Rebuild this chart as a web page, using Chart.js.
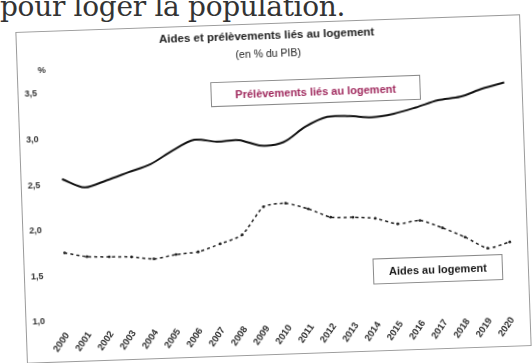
<!DOCTYPE html>
<html><head><meta charset="utf-8">
<script src="https://cdn.jsdelivr.net/npm/chart.js@4"></script>
<style>
html,body{margin:0;padding:0;background:#fff;width:532px;height:363px;overflow:hidden;position:relative;}
#head{position:absolute;left:0px;top:-7px;font-family:"DejaVu Serif",serif;font-size:28px;line-height:28px;color:#333;white-space:nowrap;letter-spacing:-0.3px;}
#box{position:absolute;left:21px;top:23px;width:505px;height:332px;transform:rotate(-2deg);transform-origin:50% 50%;}
#frame{position:absolute;left:0;top:0;width:505px;height:332px;box-sizing:border-box;border:1px solid #9a9a9a;}
canvas{position:absolute;left:0;top:0;}
.t{position:absolute;font-family:"Liberation Sans",Arial,sans-serif;color:#222;white-space:nowrap;transform:translate(-50%,-50%);}
.lg{position:absolute;box-sizing:border-box;border:1px solid #8a8a8a;background:#fff;font-family:"Liberation Sans",Arial,sans-serif;font-weight:bold;font-size:11px;display:flex;align-items:center;justify-content:center;white-space:nowrap;}
</style></head>
<body>
<div id="head">pour loger la population.</div>
<div id="box">
  <canvas id="c" width="505" height="332"></canvas>
  <div id="frame"></div>
  <div class="t" style="left:251px;top:12px;font-size:11.5px;font-weight:bold;">Aides et prélèvements liés au logement</div>
  <div class="t" style="left:252px;top:30px;font-size:10.5px;">(en % du PIB)</div>
  <div class="t" style="left:25px;top:39px;font-size:9px;font-weight:bold;color:#333;">%</div>
  <div class="lg" style="left:193px;top:57px;width:210px;height:25px;color:#a02a5e;">Prélèvements liés au logement</div>
  <div class="lg" style="left:349px;top:239px;width:130px;height:26px;color:#1a1a1a;">Aides au logement</div>
</div>
<script>
const years = ["2000","2001","2002","2003","2004","2005","2006","2007","2008","2009","2010","2011","2012","2013","2014","2015","2016","2017","2018","2019","2020"];
const prelevements = [2.56,2.46,2.53,2.61,2.69,2.83,2.94,2.91,2.92,2.85,2.88,3.04,3.14,3.14,3.12,3.15,3.21,3.28,3.31,3.39,3.45];
const aides = [1.75,1.70,1.69,1.68,1.65,1.69,1.71,1.79,1.88,2.18,2.21,2.14,2.04,2.03,2.01,1.94,1.97,1.88,1.77,1.64,1.70];
const yTickLabels = ["1,0","1,5","2,0","2,5","3,0","3,5"];

new Chart(document.getElementById('c'), {
  type: 'line',
  data: {
    labels: years,
    datasets: [
      {label:'Prélèvements liés au logement', data: prelevements, borderColor:'#111', borderWidth:2, pointRadius:0, tension:0.3, clip:false, fill:false},
      {label:'Aides au logement', data: aides, borderColor:'#222', borderWidth:1.5, borderDash:[3,3], pointRadius:1.4, pointBackgroundColor:'#222', pointBorderWidth:0, tension:0.2, clip:false, fill:false}
    ]
  },
  options: {
    responsive:false, animation:false, devicePixelRatio:1,
    layout:{padding:{top:63,right:15.4,left:0,bottom:0}},
    plugins:{legend:{display:false}, title:{display:false}, tooltip:{enabled:false}},
    scales:{
      x:{
        offset:false,
        grid:{display:false, drawTicks:false}, border:{display:false},
        ticks:{autoSkip:false, minRotation:54, maxRotation:54, padding:9, color:'#333', font:{family:'Liberation Sans', size:9.5, weight:'bold'}},
        afterFit:(s)=>{s.height=41;}
      },
      y:{
        min:1, max:3.5,
        grid:{display:false, drawTicks:false}, border:{display:false},
        ticks:{stepSize:0.5, padding:22, color:'#333', font:{family:'Liberation Sans', size:9, weight:'bold'},
          callback:(v,i)=>yTickLabels[i]},
        afterFit:(s)=>{s.width=41.5;}
      }
    }
  }
});
</script>
</body></html>
